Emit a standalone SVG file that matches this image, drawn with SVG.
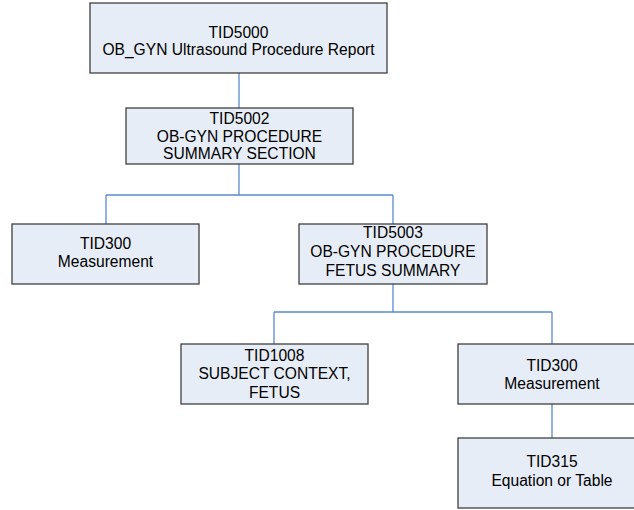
<svg xmlns="http://www.w3.org/2000/svg" width="634" height="510" viewBox="0 0 634 510">
<style>
.box{fill:#e7edf7;stroke:#404040;stroke-width:1.3}
.t{font-family:"Liberation Sans",Arial,sans-serif;font-size:15.6px;fill:#000;text-anchor:middle}
.c{fill:none;stroke:#5a8ad0;stroke-width:1.3}
</style>
<rect width="634" height="510" fill="#fff"/>
<g id="connectors">
<path class="c" d="M239,73V108"/>
<path class="c" d="M239,164V195M106,195H393M106,195V224M393,195V224"/>
<path class="c" d="M393,284V312M274,312H552M274,312V344M552,312V344"/>
<path class="c" d="M552,404V438"/>
</g>
<g id="tid5000">
<rect class="box" x="90" y="3" width="297" height="70"/>
<text class="t" x="238.5" y="37.5">TID5000</text>
<text class="t" x="238.5" y="55">OB_GYN Ultrasound Procedure Report</text>
</g>
<g id="tid5002">
<rect class="box" x="126" y="108" width="227" height="56"/>
<text class="t" x="239.5" y="124">TID5002</text>
<text class="t" x="239.5" y="141.5">OB-GYN PROCEDURE</text>
<text class="t" x="239.5" y="159">SUMMARY SECTION</text>
</g>
<g id="tid300a">
<rect class="box" x="12" y="224" width="187" height="60"/>
<text class="t" x="105.5" y="249">TID300</text>
<text class="t" x="105.5" y="267">Measurement</text>
</g>
<g id="tid5003">
<rect class="box" x="299" y="224" width="188" height="60"/>
<text class="t" x="393" y="238">TID5003</text>
<text class="t" x="393" y="257">OB-GYN PROCEDURE</text>
<text class="t" x="393" y="275.5">FETUS SUMMARY</text>
</g>
<g id="tid1008">
<rect class="box" x="181" y="344" width="187" height="60"/>
<text class="t" x="274.5" y="360.5">TID1008</text>
<text class="t" x="274.5" y="379">SUBJECT CONTEXT,</text>
<text class="t" x="274.5" y="397.5">FETUS</text>
</g>
<g id="tid300b">
<rect class="box" x="458" y="344" width="188" height="60"/>
<text class="t" x="552" y="370.5">TID300</text>
<text class="t" x="552" y="388.5">Measurement</text>
</g>
<g id="tid315">
<rect class="box" x="458" y="438" width="188" height="70"/>
<text class="t" x="552" y="467">TID315</text>
<text class="t" x="552" y="486">Equation or Table</text>
</g>
</svg>
